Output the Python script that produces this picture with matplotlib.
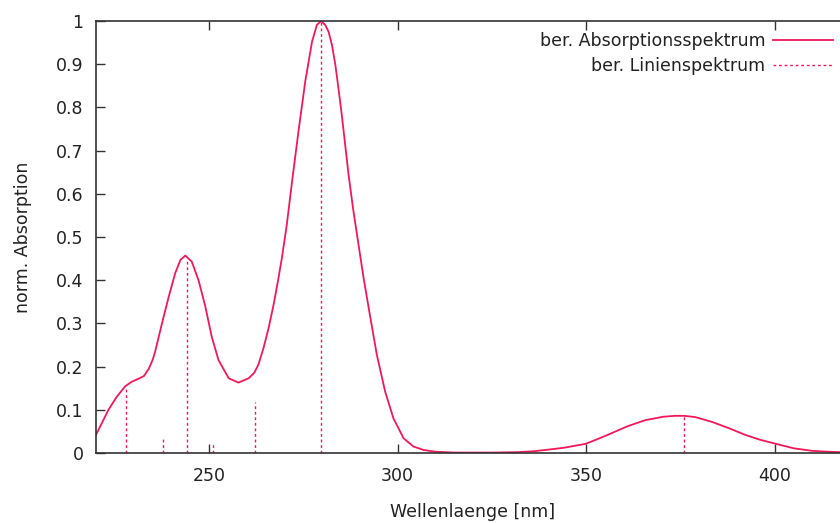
import numpy as np
import matplotlib
matplotlib.use('Agg')
import matplotlib.pyplot as plt

# berechnetes Absorptionsspektrum
wl = [220.0, 221.6, 223.3, 225.5, 227.8, 229.5, 231.3, 232.7, 234.0, 235.0,
      235.7, 237.5, 239.3, 241.0, 242.4, 243.7, 245.4, 247.2, 249.0, 250.7,
      252.5, 255.2, 257.8, 260.5, 262.0, 263.1, 264.5, 265.8, 267.1, 268.2,
      269.3, 270.6, 272.0, 273.7, 275.5, 277.3, 278.6, 279.7, 280.8, 281.7,
      282.6, 283.5, 284.3, 285.2, 287.0, 288.2, 289.5, 291.0, 292.8, 294.5,
      296.7, 298.9, 301.6, 304.2, 306.9, 310.0, 315.0, 325.0, 332.0, 336.0,
      339.2, 344.0, 349.8, 353.0, 356.8, 361.0, 365.7, 370.5, 373.5, 376.1,
      379.0, 383.4, 388.0, 392.2, 396.0, 400.0, 405.0, 409.9, 414.0, 420.0]
absorb = [0.042, 0.070, 0.100, 0.130, 0.155, 0.165, 0.172, 0.178, 0.195, 0.215,
          0.235, 0.300, 0.362, 0.416, 0.447, 0.457, 0.443, 0.400, 0.339, 0.269,
          0.215, 0.173, 0.163, 0.173, 0.186, 0.205, 0.245, 0.290, 0.343, 0.395,
          0.451, 0.528, 0.628, 0.744, 0.860, 0.952, 0.991, 1.000, 0.991, 0.975,
          0.944, 0.898, 0.845, 0.782, 0.644, 0.565, 0.490, 0.404, 0.312, 0.227,
          0.142, 0.080, 0.034, 0.015, 0.007, 0.003, 0.001, 0.001, 0.002, 0.004,
          0.007, 0.012, 0.021, 0.032, 0.046, 0.062, 0.076, 0.084, 0.086, 0.086,
          0.083, 0.072, 0.057, 0.042, 0.031, 0.022, 0.011, 0.005, 0.003, 0.001]

# Linienspektrum
lines_wl = [227.9, 237.8, 244.1, 251.1, 262.1, 279.7, 376.0]
lines_int = [0.15, 0.035, 0.45, 0.02, 0.117, 1.0, 0.085]

col = '#f0185a'

fig = plt.figure(figsize=(8.4, 5.23), dpi=100)
ax = fig.add_axes([96/840, 70/523, 754/840, 432/523])

ax.plot(wl, absorb, color=col, lw=1.3, label='ber. Absorptionsspektrum')
ax.vlines(lines_wl, 0, lines_int, colors=col, linestyles=(0, (2, 2)), lw=1.0,
          label='ber. Linienspektrum')

ax.set_xlim(220, 420)
ax.set_ylim(0, 1)
ax.set_xticks([250, 300, 350, 400])
ax.set_yticks(np.arange(0, 1.01, 0.1))
ax.set_yticklabels(['0', '0.1', '0.2', '0.3', '0.4', '0.5', '0.6', '0.7', '0.8', '0.9', '1'])
ax.tick_params(direction='in', length=6.5, width=1, colors='#333333', labelcolor='#222222',
               labelsize=12.5, top=True)
ax.tick_params(axis='x', pad=10)
ax.tick_params(axis='y', pad=9)
for s in ax.spines.values():
    s.set_color('#333333')
    s.set_linewidth(1.2)

ax.set_xlabel('Wellenlaenge [nm]', fontsize=12.5, color='#222222', labelpad=13)
ax.set_ylabel('norm. Absorption', fontsize=12.5, color='#222222', labelpad=17)

leg = ax.legend(loc='upper right', bbox_to_anchor=(833/840, 1 - 32/523),
                bbox_transform=fig.transFigure, frameon=False,
                fontsize=12.5, markerfirst=False, handlelength=3.45, handletextpad=0.45,
                labelspacing=0.38, borderaxespad=0, borderpad=0)
for t in leg.get_texts():
    t.set_color('#222222')

fig.savefig('out.png', dpi=100)
